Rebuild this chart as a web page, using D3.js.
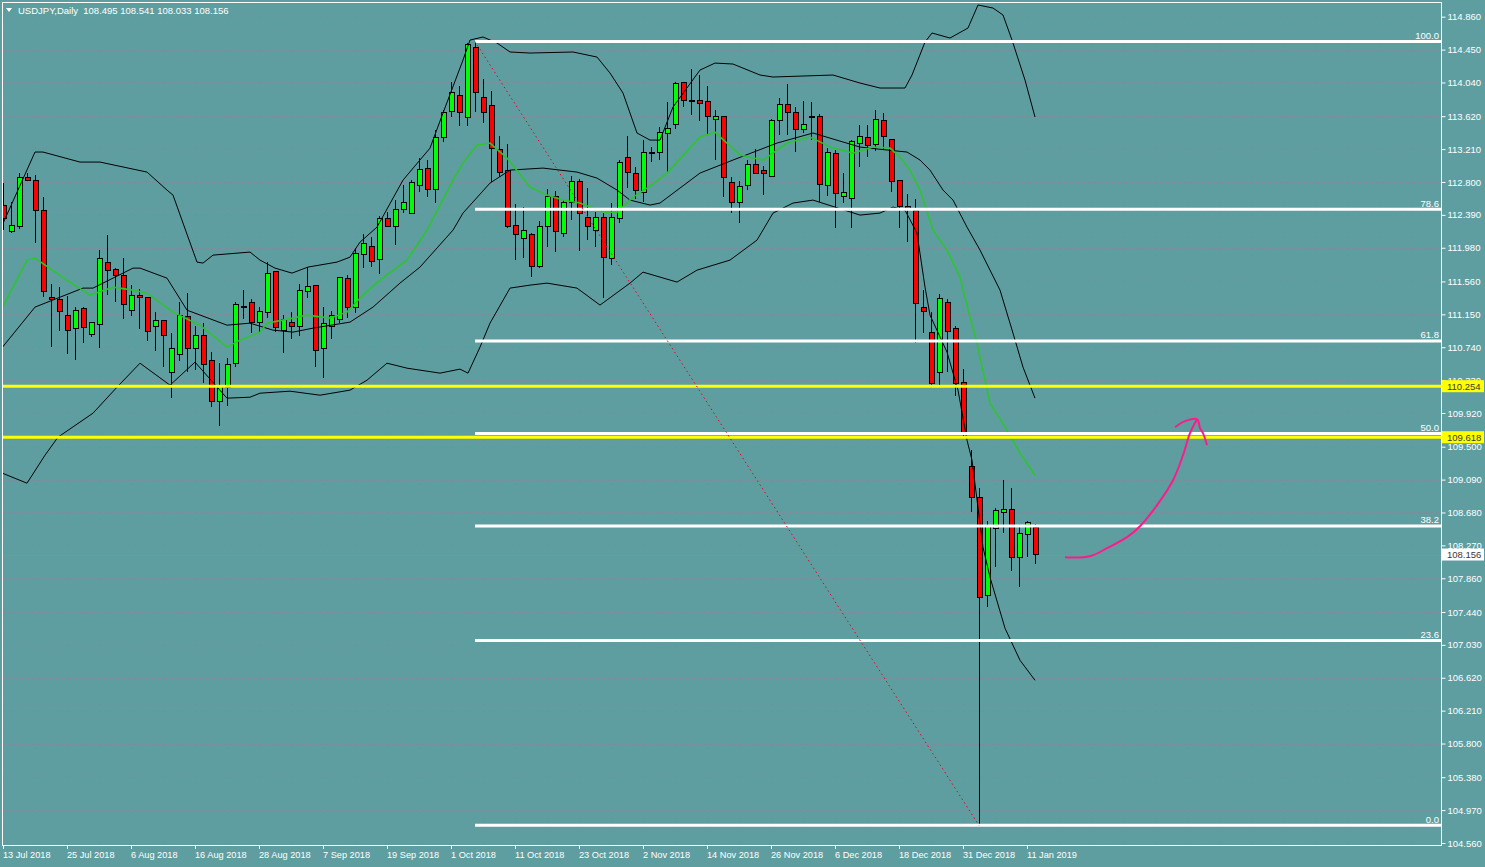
<!DOCTYPE html>
<html><head><meta charset="utf-8">
<script src="https://cdn.jsdelivr.net/npm/d3@7"></script>
<style>
html,body{margin:0;padding:0;background:#5f9ea0;overflow:hidden}
svg{display:block}
text{font-family:"Liberation Sans",Arial,sans-serif;}
</style></head><body>
<svg id="chart" width="1485" height="867"></svg>
<script>
// ---------------- DATA ----------------
const symbolTitle = "USDJPY,Daily";
const lastOHLC = [108.495, 108.541, 108.033, 108.156];

const opens = [112.51,112.18,112.25,112.86,112.82,112.44,111.36,111.33,111.13,110.97,111.22,110.90,111.02,111.79,111.71,111.64,111.20,111.39,111.36,111.00,111.07,110.43,110.65,111.12,110.73,110.88,110.58,110.06,110.24,110.54,111.24,111.30,111.05,111.17,111.68,110.95,111.05,111.00,111.43,111.51,110.72,111.00,111.08,111.60,111.24,111.90,112.00,111.83,112.34,112.25,112.46,112.41,112.76,112.97,112.70,113.35,113.68,113.88,113.60,114.47,113.85,113.75,113.21,112.94,112.26,112.10,112.15,111.74,112.24,112.62,112.16,112.55,112.80,112.36,112.20,112.36,111.85,112.34,113.10,112.91,112.67,113.15,113.17,113.40,113.52,114.04,113.82,113.81,113.80,113.58,113.61,112.79,112.54,112.75,113.02,112.94,112.87,113.56,113.77,113.66,113.46,113.61,113.61,112.75,113.16,112.62,112.59,113.28,113.35,113.27,113.57,113.33,112.82,112.50,112.44,111.23,110.92,110.43,111.30,110.97,110.30,109.25,108.87,107.65,108.48,108.68,108.72,108.12,108.41,108.495];
const highs = [112.79,112.55,112.91,112.91,112.89,112.61,111.53,111.49,111.38,111.24,111.24,111.05,111.95,112.14,111.73,111.85,111.51,111.46,111.37,111.18,111.08,110.92,111.30,111.41,111.00,111.04,110.68,110.54,110.60,111.30,111.45,111.34,111.24,111.80,111.69,111.14,111.18,111.53,111.74,111.52,111.24,111.19,111.62,111.64,111.98,112.15,112.11,112.37,112.42,112.57,112.76,112.82,113.10,113.07,113.45,113.70,114.05,114.00,114.53,114.55,114.08,113.93,113.37,113.27,112.52,112.49,112.16,112.31,112.71,112.69,112.57,112.87,112.84,112.72,112.42,112.42,112.54,113.07,113.37,112.99,113.32,113.24,113.48,113.80,114.05,114.05,114.21,114.13,114.00,113.70,113.62,112.86,112.81,113.07,113.21,113.00,113.58,113.85,114.02,113.73,113.81,113.80,113.65,113.22,113.20,112.91,113.32,113.51,113.51,113.70,113.66,113.33,112.83,112.65,112.59,111.45,111.18,111.40,111.34,111.00,110.47,109.46,108.99,108.58,108.73,109.08,108.99,108.51,108.58,108.541];
const lows = [112.20,112.17,112.21,112.82,112.04,111.36,110.74,110.94,110.65,110.58,110.79,110.87,110.73,111.39,111.30,111.09,111.13,110.97,110.82,110.69,110.49,110.11,110.57,110.43,110.45,110.29,109.99,109.76,110.01,110.49,111.09,110.92,110.93,111.10,110.93,110.67,110.84,110.88,111.35,110.49,110.36,110.84,111.04,111.10,111.17,111.73,111.74,111.65,112.24,112.01,112.41,112.40,112.67,112.61,112.54,113.30,113.61,113.50,113.50,113.67,113.53,112.80,112.86,112.22,111.83,111.85,111.61,111.73,111.99,111.93,112.11,112.33,111.94,112.08,111.99,111.35,111.76,112.29,112.72,112.59,112.55,113.05,113.07,112.92,113.46,113.73,113.63,113.56,113.38,113.07,112.61,112.41,112.29,112.70,112.90,112.64,112.86,113.38,113.38,113.17,113.41,113.32,112.55,112.62,112.22,112.54,112.22,112.99,113.11,113.18,113.20,112.67,112.22,112.05,110.79,110.92,110.24,110.25,110.43,110.13,109.62,108.68,104.78,107.50,108.00,108.42,107.95,107.75,108.12,108.033];
const closes = [112.35,112.26,112.86,112.82,112.45,111.43,111.33,111.18,110.95,111.20,110.99,111.05,111.85,111.70,111.63,111.27,111.39,111.36,110.94,111.07,110.88,110.72,111.13,110.73,110.88,110.53,110.06,110.25,110.53,111.27,111.25,111.05,111.18,111.66,110.98,111.09,111.00,111.45,111.50,110.70,111.03,111.13,111.61,111.24,111.91,112.03,111.81,112.35,112.25,112.46,112.55,112.79,112.95,112.71,113.36,113.67,113.92,113.66,114.51,113.91,113.67,113.22,112.92,112.24,112.15,112.20,111.75,112.24,112.62,112.18,112.54,112.80,112.41,112.24,112.36,111.86,112.36,113.04,112.92,112.69,113.17,113.17,113.42,113.47,114.03,113.81,113.82,113.78,113.61,113.61,112.85,112.54,112.74,113.02,112.91,112.91,113.57,113.77,113.67,113.45,113.52,113.62,112.77,113.17,112.66,112.67,113.30,113.37,113.25,113.58,113.37,112.80,112.50,112.46,111.28,111.19,110.29,111.35,110.94,110.29,109.67,108.87,107.62,108.50,108.71,108.72,108.12,108.42,108.55,108.156];

// date labels, one every 8 bars
const dateLabels = ["13 Jul 2018","25 Jul 2018","6 Aug 2018","16 Aug 2018","28 Aug 2018","7 Sep 2018","19 Sep 2018","1 Oct 2018","11 Oct 2018","23 Oct 2018","2 Nov 2018","14 Nov 2018","26 Nov 2018","6 Dec 2018","18 Dec 2018","31 Dec 2018","11 Jan 2019"];
const labelEvery = 8;
const gridEvery = 4;

// price axis labels
const priceTicks = [114.860,114.450,114.040,113.620,113.210,112.800,112.390,111.980,111.560,111.150,110.740,110.330,109.920,109.500,109.090,108.680,108.270,107.860,107.440,107.030,106.620,106.210,105.800,105.380,104.970,104.560];
const priceMin = 104.560, priceMax = 114.860;

// Bollinger bands (20,2) and moving average: [bar index, price]
const upperBand = [[-0.375,112.200],[4,113.173],[5,113.173],[9.625,113.048],[12.125,113.048],[18,112.923],[20.5,112.699],[21.25,112.636],[24.25,111.801],[25,111.789],[26.25,111.888],[30.875,111.926],[32.125,111.826],[34,111.726],[36.125,111.664],[38.125,111.739],[41.75,111.801],[43.375,111.863],[44.625,112.050],[46.75,112.237],[50,112.823],[53.375,113.222],[55,113.659],[57.5,114.320],[58.375,114.569],[60,114.607],[61.75,114.532],[63.375,114.420],[65.875,114.407],[71.25,114.420],[74.25,114.357],[75.875,114.158],[77.5,113.908],[79.25,113.410],[80.875,113.322],[82.125,113.322],[83.75,113.734],[87.125,114.195],[89,114.282],[91.25,114.270],[94.625,114.133],[96.25,114.108],[103.75,114.133],[107.125,114.033],[109.625,113.971],[112.75,113.971],[113.625,114.133],[115.25,114.544],[116.125,114.657],[118.375,114.594],[120.625,114.719],[121.875,115.006],[123.75,114.968],[125,114.881],[126.125,114.569],[127.75,114.070],[129,113.609]];
const middleBand = [[-0.375,110.703],[4,111.240],[10,111.477],[11.25,111.477],[16.25,111.726],[17.125,111.726],[20.5,111.601],[23,111.202],[28,111.015],[30.875,111.040],[33.75,110.953],[36.25,110.928],[38.75,110.978],[43.375,111.053],[46.25,111.240],[49.625,111.539],[52.125,111.739],[56.25,112.200],[57.5,112.412],[60.875,112.786],[63.375,112.948],[67.5,112.973],[71.75,112.923],[74.25,112.848],[76.75,112.699],[78.375,112.574],[80.875,112.512],[82.125,112.537],[87.125,112.911],[91.25,113.073],[96.75,113.285],[101.25,113.410],[107.125,113.235],[110.5,113.198],[113,113.173],[114.625,113.073],[115.875,112.948],[117.5,112.699],[118.75,112.574],[120.5,112.237],[122.125,111.951],[124.625,111.452],[126.25,110.915],[127.5,110.492],[129,110.105]];
const lowerBand = [[-0.375,109.182],[3,109.045],[5.25,109.394],[6.875,109.619],[11.25,109.918],[14.25,110.242],[17.125,110.541],[20.875,110.267],[24,110.554],[28,110.105],[30.875,110.117],[32.125,110.167],[35.875,110.192],[39.625,110.142],[43.375,110.205],[45.5,110.329],[48,110.541],[50.5,110.479],[54.625,110.417],[57.125,110.467],[58.125,110.417],[59.625,110.741],[60.875,111.040],[63.375,111.477],[65.875,111.514],[68,111.539],[71.75,111.477],[74.625,111.265],[78.375,111.539],[80,111.676],[84.25,111.552],[86.75,111.701],[90.875,111.826],[94.25,112.075],[96.25,112.412],[98.75,112.537],[101.25,112.574],[107.125,112.387],[109.625,112.412],[111.25,112.487],[112.75,112.449],[114.25,112.163],[115.25,111.489],[115.875,111.140],[118,110.679],[119.375,110.205],[120.5,109.581],[121.125,109.332],[122.5,108.247],[123.375,107.873],[125.25,107.237],[127.125,106.838],[129,106.588]];
const maLine = [[-0.375,111.177],[3,111.826],[4,111.851],[8,111.576],[10.875,111.390],[13.75,111.489],[16.25,111.452],[18,111.414],[21.25,111.177],[24.625,111.015],[28,110.741],[29.625,110.828],[32.125,110.928],[33,111.040],[38,111.140],[40.875,111.103],[43,111.177],[45,111.390],[47.125,111.576],[50.5,111.826],[53,112.200],[56.25,112.823],[57.5,113.035],[59.25,113.260],[60.875,113.285],[63,113.098],[65.875,112.736],[68,112.636],[70,112.574],[72.125,112.537],[75,112.424],[76.75,112.424],[78.75,112.611],[80.875,112.749],[83,112.911],[87.125,113.360],[89,113.422],[92.125,113.135],[95,113.073],[98,113.285],[100.875,113.360],[103.75,113.222],[106.25,113.160],[108.75,113.235],[110.875,113.222],[112.125,113.110],[113.375,112.948],[114.625,112.699],[116.25,112.200],[118,111.951],[119.625,111.614],[120.875,111.115],[121.75,110.791],[123.375,110.043],[125.5,109.706],[127.125,109.419],[129,109.145]];

// Fibonacci retracement
const fibHigh = 114.55, fibLow = 104.78;
const fibHighBar = 59, fibLowBar = 122;
const fibLevels = [0.0, 23.6, 38.2, 50.0, 61.8, 78.6, 100.0];

// horizontal yellow levels and current price
const yellowLevels = [110.254, 109.618];
const currentPrice = 108.156;

// hand-drawn arrow annotation [bar index, price]
const arrowCurve = [[132.75,108.122],[135.875,108.135],[138,108.235],[140.5,108.372],[142.125,108.509],[144.25,108.771],[146.25,109.082],[147.5,109.394],[148.375,109.669],[149.25,109.843]];
const arrowHead = [[146.5,109.743],[147.75,109.818],[149.25,109.843],[149.625,109.731],[150,109.669],[150.5,109.519]];

// ---------------- DRAW ----------------
const W = 1485, H = 867;
const plot = {left: 2, top: 2, right: 1441, bottom: 845};
const svg = d3.select("#chart");
const bg = "#5f9ea0";
svg.append("rect").attr("width", W).attr("height", H).attr("fill", bg);

const x = d3.scaleLinear().domain([0, 180]).range([3, 1443]);
const y = d3.scaleLinear().domain([priceMin, priceMax]).range([843, 16.7]);
const px = v => Math.round(x(v)) + 0.5;

svg.append("clipPath").attr("id", "clip").append("rect")
  .attr("x", plot.left).attr("y", plot.top)
  .attr("width", plot.right - plot.left).attr("height", plot.bottom - plot.top);
const g = svg.append("g").attr("clip-path", "url(#clip)");

const gridColor = "#7d8b9a";
// vertical grid
const nBars = 180;
const vg = d3.range(0, nBars, gridEvery);
g.selectAll(".vg").data(vg).join("line")
  .attr("x1", d => px(d)).attr("x2", d => px(d))
  .attr("y1", plot.top).attr("y2", plot.bottom)
  .attr("stroke", gridColor).attr("stroke-dasharray", "3,3").attr("stroke-width", 1);
// horizontal grid
g.selectAll(".hg").data(priceTicks).join("line")
  .attr("x1", plot.left).attr("x2", plot.right)
  .attr("y1", d => Math.round(y(d)) + 0.5).attr("y2", d => Math.round(y(d)) + 0.5)
  .attr("stroke", gridColor).attr("stroke-dasharray", "3,3").attr("stroke-width", 1);

// current price line
g.append("line").attr("x1", plot.left).attr("x2", plot.right)
  .attr("y1", Math.round(y(currentPrice)) + 0.5).attr("y2", Math.round(y(currentPrice)) + 0.5)
  .attr("stroke", "#8b8b9b").attr("stroke-width", 1);

// candles
const idx = d3.range(opens.length);
const cg = g.append("g").attr("shape-rendering", "crispEdges");
cg.selectAll(".wick").data(idx).join("line")
  .attr("x1", i => px(i)).attr("x2", i => px(i))
  .attr("y1", i => y(highs[i])).attr("y2", i => y(lows[i]))
  .attr("stroke", "#000").attr("stroke-width", 1);
cg.selectAll(".body").data(idx).join("rect")
  .attr("x", i => px(i) - 2.5).attr("width", 5)
  .attr("y", i => y(Math.max(opens[i], closes[i])))
  .attr("height", i => Math.max(1, Math.abs(y(opens[i]) - y(closes[i]))))
  .attr("fill", i => closes[i] >= opens[i] ? "#00ff00" : "#ff0000")
  .attr("stroke", "#000").attr("stroke-width", 1);

// indicators
const line = d3.line().x(d => x(d[0])).y(d => y(d[1]));
[upperBand, middleBand, lowerBand].forEach(b => {
  g.append("path").attr("d", line(b)).attr("fill", "none").attr("stroke", "#000").attr("stroke-width", 1);
});
g.append("path").attr("d", line(maLine)).attr("fill", "none").attr("stroke", "#2fc42f").attr("stroke-width", 1.6);

// yellow lines
g.selectAll(".yl").data(yellowLevels).join("line")
  .attr("x1", plot.left).attr("x2", plot.right)
  .attr("y1", d => y(d)).attr("y2", d => y(d))
  .attr("stroke", "#ffff00").attr("stroke-width", 3);

// fib lines
const fibPrice = l => fibLow + (fibHigh - fibLow) * l / 100;
g.selectAll(".fl").data(fibLevels).join("line")
  .attr("x1", x(fibHighBar)).attr("x2", plot.right)
  .attr("y1", d => y(fibPrice(d))).attr("y2", d => y(fibPrice(d)))
  .attr("stroke", "#ffffff").attr("stroke-width", 3);
g.selectAll(".ft").data(fibLevels).join("text")
  .attr("x", plot.right - 2).attr("y", d => y(fibPrice(d)) - 2.5)
  .attr("text-anchor", "end").attr("font-size", 9.5).attr("fill", "#ffffff")
  .text(d => d.toFixed(1));

// fib trend line (dotted red)
g.append("line")
  .attr("x1", x(fibHighBar)).attr("y1", y(fibHigh))
  .attr("x2", x(fibLowBar)).attr("y2", y(fibLow))
  .attr("stroke", "#e8001a").attr("stroke-width", 1).attr("stroke-dasharray", "1.5,3");

// arrow
const curve = d3.line().x(d => x(d[0])).y(d => y(d[1])).curve(d3.curveCatmullRom);
g.append("path").attr("d", curve(arrowCurve)).attr("fill", "none").attr("stroke", "#ff1a8c").attr("stroke-width", 2);
g.append("path").attr("d", curve(arrowHead)).attr("fill", "none").attr("stroke", "#ff1a8c").attr("stroke-width", 2);

// frame
svg.append("rect").attr("x", plot.left + 0.5).attr("y", plot.top + 0.5)
  .attr("width", plot.right - plot.left).attr("height", plot.bottom - plot.top)
  .attr("fill", "none").attr("stroke", "#ffffff").attr("stroke-width", 1);

// header
svg.append("path").attr("d", "M6,8 L12,8 L9,12 Z").attr("fill", "#ffffff");
svg.append("text").attr("x", 18).attr("y", 14).attr("font-size", 9.5).attr("fill", "#ffffff")
  .attr("xml:space", "preserve")
  .text(symbolTitle + "  " + lastOHLC.map(d => d.toFixed(3)).join(" "));

// right price axis
const yAxis = d3.axisRight(y).tickValues(priceTicks).tickFormat(d3.format(".3f")).tickSize(4).tickPadding(2);
const ya = svg.append("g").attr("transform", `translate(${plot.right + 0.5},0)`).call(yAxis);
ya.select(".domain").remove();
ya.selectAll("line").attr("stroke", "#ffffff");
ya.selectAll("text").attr("fill", "#ffffff").attr("font-size", 9.5).attr("font-family", "Liberation Sans, Arial, sans-serif");

// price labels (yellow levels and current price)
const priceLabel = (p, fill, textFill) => {
  const yy = y(p);
  svg.append("rect").attr("x", plot.right + 1).attr("y", yy - 6).attr("width", 42).attr("height", 12).attr("fill", fill);
  svg.append("text").attr("x", plot.right + 6).attr("y", yy + 3.5).attr("font-size", 9.5).attr("fill", textFill).text(p.toFixed(3));
};
yellowLevels.forEach(p => priceLabel(p, "#ffff00", "#3a3a3a"));
priceLabel(currentPrice, "#ffffff", "#3a3a3a");

// bottom date axis
const dateTicks = dateLabels.map((d, k) => k * labelEvery);
const xa = svg.append("g");
xa.selectAll("line").data(dateTicks).join("line")
  .attr("x1", d => px(d)).attr("x2", d => px(d))
  .attr("y1", plot.bottom).attr("y2", plot.bottom + 4)
  .attr("stroke", "#ffffff");
xa.selectAll("text").data(dateLabels).join("text")
  .attr("x", (d, k) => px(k * labelEvery) - 0.5).attr("y", 858)
  .attr("font-size", 9.2).attr("fill", "#ffffff")
  .text(d => d);
</script>
</body></html>
